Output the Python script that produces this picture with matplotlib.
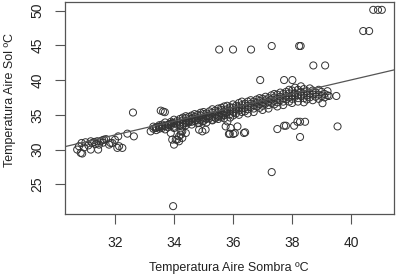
import matplotlib
matplotlib.use("Agg")
import matplotlib.pyplot as plt
import numpy as np

plt.rcParams['font.family'] = ['Liberation Sans', 'DejaVu Sans']

# --- Data ---
# left cluster
sombra_a = [30.72, 30.84, 30.89, 30.78, 30.87, 31.0, 31.18, 31.23, 31.18, 31.43, 31.46, 31.51,
            31.57, 31.63, 31.8, 31.85, 31.91, 32.08, 32.14, 32.25, 32.11, 32.42, 32.64, 31.3,
            31.4, 31.7, 31.1, 32.0, 31.6, 30.95, 31.35]
sol_a = [30.0, 29.52, 29.43, 30.48, 30.95, 31.05, 31.19, 30.95, 30.0, 30.0, 30.71, 31.19,
         31.33, 31.43, 30.71, 30.95, 30.95, 30.24, 30.48, 30.24, 31.9, 32.29, 31.9, 31.1,
         31.2, 31.5, 30.6, 31.4, 31.0, 30.3, 30.8]

# outliers
sombra_o = [32.61, 33.55, 33.63, 33.69, 35.53, 36.0, 36.61, 37.31, 38.24, 38.29, 38.72, 39.12,
            36.92, 37.73, 38.01, 40.41, 40.61, 40.75, 40.91, 41.04, 33.97, 37.31, 39.54, 38.27,
            35.89, 36.06, 36.41, 37.5, 37.73, 37.79, 38.07, 38.18, 38.27, 38.44, 39.25, 39.5,
            39.03, 35.86, 36.01, 36.37, 35.92, 36.15]
sol_o = [35.33, 35.6, 35.47, 35.38, 44.39, 44.39, 44.39, 44.9, 44.9, 44.9, 42.1, 42.1,
         40.0, 40.0, 40.0, 47.05, 47.05, 50.1, 50.1, 50.1, 21.86, 26.76, 33.33, 31.81,
         32.29, 32.38, 32.48, 32.95, 33.43, 33.43, 33.43, 34.0, 34.0, 34.0, 37.71, 37.71,
         36.67, 32.24, 32.24, 32.38, 33.1, 33.33]

# lower scatter around 33-36
sombra_b = [33.21, 33.38, 33.49, 33.6, 33.72, 33.83, 33.94, 34.0, 33.89, 33.94, 34.0, 34.11,
            34.17, 34.23, 34.28, 34.4, 34.51, 34.62, 34.74, 34.85, 34.96, 35.07, 35.19, 35.3,
            35.41, 35.53, 35.64, 35.75, 35.81, 35.75, 34.96, 35.07, 34.85, 34.4, 34.28, 34.17,
            34.06, 34.23, 34.28]
sol_b = [32.62, 33.1, 33.24, 33.33, 33.43, 33.57, 33.81, 33.1, 32.38, 31.43, 30.71, 31.43,
         31.9, 32.62, 33.33, 33.81, 34.05, 34.52, 34.29, 33.81, 34.05, 34.52, 34.76, 34.29,
         34.52, 34.76, 35.0, 35.24, 34.05, 33.33, 32.62, 32.86, 32.86, 32.38, 31.67, 31.19,
         31.43, 32.14, 32.62]

# dense band, by column of shade temperature
band = {
    33.3: [33.0, 33.3], 33.4: [33.2, 32.8], 33.5: [33.5, 33.0, 33.3], 33.6: [33.1, 33.6],
    33.7: [33.4, 33.9, 32.9], 33.8: [33.6, 33.2], 33.9: [34.0, 33.5, 33.7],
    34.0: [33.8, 34.3, 33.3], 34.1: [34.1, 33.6], 34.2: [33.9, 34.4, 33.4],
    34.3: [34.2, 34.6, 33.7], 34.4: [34.5, 34.0, 33.5, 34.8], 34.5: [34.2, 34.7, 33.9],
    34.6: [34.4, 34.9, 34.0, 33.6], 34.7: [34.7, 34.1, 35.1], 34.8: [34.5, 35.0, 34.2, 33.8],
    34.9: [34.9, 34.3, 35.3], 35.0: [34.6, 35.1, 34.1, 35.4], 35.1: [35.2, 34.8, 34.4, 33.9],
    35.2: [34.9, 35.5, 34.5], 35.3: [35.3, 34.7, 35.8, 34.2], 35.4: [35.0, 35.6, 34.6],
    35.5: [35.4, 34.9, 35.9, 34.4], 35.6: [35.2, 35.7, 34.7, 36.0], 35.7: [35.5, 35.0, 36.2, 34.5],
    35.8: [35.8, 35.3, 36.3], 35.9: [35.6, 36.1, 35.1, 34.6], 36.0: [36.0, 35.4, 36.5, 34.9],
    36.1: [35.8, 36.3, 35.2], 36.2: [36.1, 35.6, 36.7, 35.0], 36.3: [36.4, 35.9, 35.4, 36.9],
    36.4: [36.0, 36.6, 35.5], 36.5: [36.3, 36.9, 35.8, 35.2], 36.6: [36.6, 36.1, 37.1],
    36.7: [36.4, 36.9, 35.9, 35.4], 36.8: [36.7, 37.2, 36.2], 36.9: [36.5, 37.0, 36.0, 37.4],
    37.0: [36.8, 37.3, 36.3, 35.7], 37.1: [37.1, 36.6, 37.6], 37.2: [36.9, 37.4, 36.4, 35.9],
    37.3: [37.2, 36.7, 37.8], 37.4: [37.0, 37.5, 36.5, 38.0], 37.5: [37.3, 36.8, 37.9, 36.2],
    37.6: [37.6, 37.1, 38.2], 37.7: [37.4, 36.9, 38.0, 36.4], 37.8: [37.7, 37.2, 38.3],
    37.9: [37.5, 38.1, 36.9, 38.6], 38.0: [37.8, 37.3, 38.5, 36.7], 38.1: [38.1, 37.6, 38.9],
    38.2: [37.9, 37.4, 38.6, 36.9], 38.3: [38.3, 37.7, 39.1], 38.4: [38.0, 37.4, 38.7, 36.8],
    38.5: [38.4, 37.8, 37.2], 38.6: [38.1, 37.5, 38.8], 38.7: [38.5, 37.9, 37.1],
    38.8: [38.2, 37.6], 38.9: [38.6, 37.9, 37.3], 39.0: [38.3, 37.7], 39.1: [38.0, 37.5],
    39.2: [38.4, 37.8],
}
sombra_c = [k for k, v in band.items() for _ in v]
sol_c = [y for v in band.values() for y in v]

sombra = np.array(sombra_a + sombra_o + sombra_b + sombra_c)
sol = np.array(sol_a + sol_o + sol_b + sol_c)

# regression line (intercept, slope)
intercept, slope = 0.42, 0.99

xticks = [32, 34, 36, 38, 40]
yticks = [25, 30, 35, 40, 45, 50]

# --- Plot ---
W, H = 396, 278
fig = plt.figure(figsize=(W / 100, H / 100), dpi=100)
ax = fig.add_axes([65 / W, 1 - 214 / H, 329 / W, 212 / H])

ink = '#333333'
ax.scatter(sombra, sol, s=26, facecolors='none', edgecolors=ink, linewidths=0.7, zorder=2)

xr = (sombra.min(), sombra.max())
pad_x = 0.04 * (xr[1] - xr[0])
yr = (sol.min(), sol.max())
pad_y = 0.04 * (yr[1] - yr[0])
ax.set_xlim(xr[0] - pad_x, xr[1] + pad_x)
ax.set_ylim(yr[0] - pad_y, yr[1] + pad_y)

ax.axline((0, intercept), slope=slope, color='#555555', lw=0.9, zorder=3)

ax.set_xticks(xticks)
ax.set_yticks(yticks)
ax.tick_params(axis='both', direction='out', length=7, width=0.8, color='#555555',
               labelsize=10, labelcolor='#222222')
ax.tick_params(axis='x', pad=9)
ax.tick_params(axis='y', pad=8)
for lab in ax.get_yticklabels():
    lab.set_rotation(90)
    lab.set_va('center')
for s in ax.spines.values():
    s.set_color('#555555')
    s.set_linewidth(0.9)

ax.set_xlabel('Temperatura Aire Sombra ºC', fontsize=9, color='#222222', va='center')
ax.set_ylabel('Temperatura Aire Sol ºC', fontsize=9, color='#222222', va='center')
ax.xaxis.set_label_coords((229 - 65) / 329, (214 - 268) / 212)
ax.yaxis.set_label_coords((10 - 65) / 329, (214 - 100) / 212)

fig.savefig('out.png', dpi=100)
